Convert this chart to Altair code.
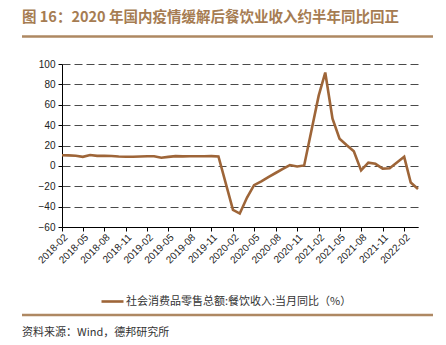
import altair as alt
import pandas as pd
from datetime import datetime, timezone

# ---- data ----
months = (
    ["2018-%02d" % m for m in range(2, 13)]
    + ["2019-%02d" % m for m in range(2, 13)]
    + ["2020-%02d" % m for m in range(2, 13)]
    + ["2021-%02d" % m for m in range(2, 13)]
    + ["2022-%02d" % m for m in range(2, 5)]
)
values_2018 = [10.5, 10.3, 9.9, 8.9, 10.6, 9.8, 9.9, 9.7, 9.2, 8.9, 9.0]
values_2019 = [9.5, 9.4, 8.0, 8.8, 9.6, 9.3, 9.4, 9.5, 9.4, 9.6, 9.3]
values_2020 = [-43.1, -46.8, -31.1, -18.9, -15.2, -11.0, -7.0, -2.9, 0.8, -0.6, 0.4]
values_2021 = [68.9, 91.6, 46.4, 26.6, 20.2, 14.3, -4.5, 3.1, 2.0, -2.7, -2.3]
values_2022 = [8.9, -16.4, -22.7]
values = values_2018 + values_2019 + values_2020 + values_2021 + values_2022

series_name = "社会消费品零售总额:餐饮收入:当月同比（%）"
tick_labels = ["2018-02", "2018-05", "2018-08", "2018-11", "2019-02", "2019-05",
               "2019-08", "2019-11", "2020-02", "2020-05", "2020-08", "2020-11",
               "2021-02", "2021-05", "2021-08", "2021-11", "2022-02"]
title_text = "图 16：2020 年国内疫情缓解后餐饮业收入约半年同比回正"
source_text = "资料来源：Wind，德邦研究所"


def ms(ym):
    y, m = ym.split("-")
    return int(datetime(int(y), int(m), 1, tzinfo=timezone.utc).timestamp() * 1000)


df = pd.DataFrame({
    "date": [m + "-01" for m in months],
    "value": values,
    "series": [series_name] * len(values),
})

LINE = "#9E6538"
ACCENT = "#AE8862"
GRID = "#4a4a4a"
W, H = 356, 163

base = alt.Chart(df)

line = base.mark_line(strokeWidth=2.6, interpolate="linear").encode(
    x=alt.X(
        "date:T",
        scale=alt.Scale(domain=[ms("2018-02"), ms("2022-04")], nice=False),
        axis=alt.Axis(
            values=[ms(t) for t in tick_labels],
            labelExpr="utcFormat(datum.value, '%Y-%m')",
            labelAngle=-45,
            labelAlign="right",
            labelBaseline="top",
            labelOverlap=False,
            labelFontSize=10,
            labelColor="#222",
            labelFont="Liberation Sans",
            grid=False,
            domainColor="#000",
            tickColor="#000",
            tickSize=4,
            title=None,
            labelPadding=1,
        ),
    ),
    y=alt.Y(
        "value:Q",
        scale=alt.Scale(domain=[-60, 100], nice=False),
        axis=alt.Axis(
            values=list(range(-60, 101, 20)),
            labelFontSize=10,
            labelColor="#222",
            labelFont="Liberation Sans",
            grid=True,
            gridDash=[8, 4],
            gridColor=GRID,
            gridWidth=1,
            domainColor="#000",
            tickColor="#000",
            tickSize=4,
            title=None,
            labelPadding=3,
        ),
    ),
    color=alt.Color(
        "series:N",
        scale=alt.Scale(range=[LINE]),
        legend=alt.Legend(
            title=None,
            orient="none",
            legendX=38,
            legendY=225,
            symbolType="stroke",
            symbolSize=484,
            symbolStrokeWidth=2.6,
            labelFontSize=11,
            labelFont="Noto Sans CJK SC",
            labelColor="#333",
            labelLimit=400,
            labelOffset=1,
        ),
    ),
)

one = pd.DataFrame({"k": [0]})

title = alt.Chart(one).mark_text(
    align="left", baseline="middle", fontSize=14.5, fontWeight="bold",
    font="Noto Sans CJK SC", color="#A67C52"
).encode(x=alt.value(-40), y=alt.value(-46), text=alt.value(title_text))

title_rule = alt.Chart(one).mark_rule(color=ACCENT, strokeWidth=2.5).encode(
    x=alt.value(-40), x2=alt.value(371), y=alt.value(-27.5)
)

foot_rule = alt.Chart(one).mark_rule(color=ACCENT, strokeWidth=2.5).encode(
    x=alt.value(-40), x2=alt.value(371), y=alt.value(251)
)

source = alt.Chart(one).mark_text(
    align="left", baseline="middle", fontSize=11,
    font="Noto Sans CJK SC", color="#333"
).encode(x=alt.value(-40), y=alt.value(268.5), text=alt.value(source_text))

chart = alt.layer(line, title, title_rule, foot_rule, source).properties(
    width=W, height=H,
    autosize=alt.AutoSizeParams(type="none"),
    padding={"left": 62, "top": 64, "right": 28, "bottom": 118},
    background="white",
).configure_view(stroke=None)

chart.save("out.html", embed_options={"renderer": "svg", "actions": False})
